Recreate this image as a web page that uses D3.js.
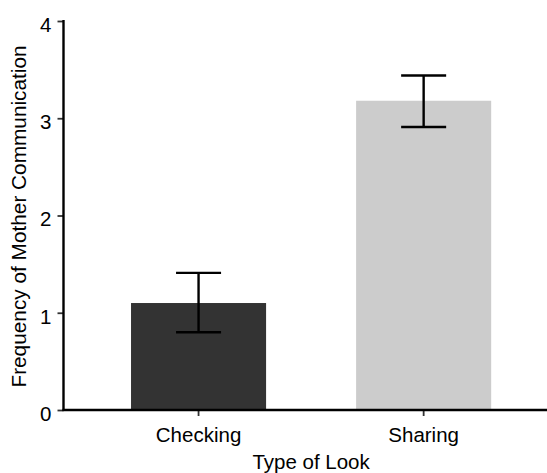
<!DOCTYPE html>
<html>
<head>
<meta charset="utf-8">
<script src="https://cdn.jsdelivr.net/npm/d3@7"></script>
<style>
  body { margin: 0; background: #fff; }
  text { font-family: "Liberation Sans", Arial, sans-serif; }
</style>
</head>
<body>
<div id="plot"></div>
<script>
// chart values
const categories = ["Checking", "Sharing"];
const means = [1.10, 3.18];
const errLow = [0.80, 2.91];
const errHigh = [1.41, 3.44];
const barColors = ["#333333", "#cccccc"];
const yTicks = [0, 1, 2, 3, 4];

const width = 547, height = 473;
const dimension = {
    left: 63.5,
    right: 558.7,   // panel runs past the picture edge
    top: 21,
    bottom: 410
};

const svg = d3.select("#plot").append("svg")
    .attr("width", width)
    .attr("height", height);

// scales
const xScaler = d3.scaleBand()
    .domain(categories)
    .range([dimension.left, dimension.right])
    .paddingInner(0.4)
    .paddingOuter(0.3);

const yScaler = d3.scaleLinear()
    .domain([0, 4])
    .range([dimension.bottom, dimension.top]);

// bars
svg.append("g").selectAll("rect")
    .data(categories)
    .join("rect")
    .attr("x", d => xScaler(d))
    .attr("width", xScaler.bandwidth())
    .attr("y", (d, i) => yScaler(means[i]))
    .attr("height", (d, i) => yScaler(0) - yScaler(means[i]))
    .attr("fill", (d, i) => barColors[i]);

// error bars
const capHalf = xScaler.step() * 0.1;
const errG = svg.append("g")
    .attr("stroke", "#000")
    .attr("stroke-width", 2.4)
    .attr("fill", "none");

categories.forEach((c, i) => {
    const cx = xScaler(c) + xScaler.bandwidth() / 2;
    errG.append("line")
        .attr("x1", cx).attr("x2", cx)
        .attr("y1", yScaler(errLow[i])).attr("y2", yScaler(errHigh[i]));
    errG.append("line")
        .attr("x1", cx - capHalf).attr("x2", cx + capHalf)
        .attr("y1", yScaler(errHigh[i])).attr("y2", yScaler(errHigh[i]));
    errG.append("line")
        .attr("x1", cx - capHalf).attr("x2", cx + capHalf)
        .attr("y1", yScaler(errLow[i])).attr("y2", yScaler(errLow[i]));
});

// axes
const yAxisGenerator = d3.axisLeft(yScaler)
    .tickValues(yTicks)
    .tickFormat(d3.format("d"))
    .tickSize(6)
    .tickPadding(6);

const xAxisGenerator = d3.axisBottom(xScaler)
    .tickSize(6)
    .tickPadding(5);

const yAxis = svg.append("g")
    .attr("transform", `translate(${dimension.left},0)`)
    .call(yAxisGenerator);

const xAxis = svg.append("g")
    .attr("transform", `translate(0,${dimension.bottom})`)
    .call(xAxisGenerator);

[yAxis, xAxis].forEach(ax => {
    ax.select(".domain").remove();
    ax.selectAll(".tick line").attr("stroke", "#333").attr("stroke-width", 1.8);
    ax.selectAll(".tick text")
        .attr("fill", "#000")
        .style("font-size", "20.5px");
});
yAxis.selectAll(".tick text").attr("dy", "0.5em");
xAxis.selectAll(".tick text").attr("dy", "1.0em");

// axis lines
svg.append("line")
    .attr("x1", dimension.left).attr("x2", dimension.left)
    .attr("y1", dimension.top - 1).attr("y2", dimension.bottom + 1)
    .attr("stroke", "#000").attr("stroke-width", 2.4);
svg.append("line")
    .attr("x1", dimension.left - 1).attr("x2", width)
    .attr("y1", dimension.bottom).attr("y2", dimension.bottom)
    .attr("stroke", "#000").attr("stroke-width", 2.4);

// titles
svg.append("text")
    .attr("x", (dimension.left + dimension.right) / 2)
    .attr("y", 469)
    .attr("text-anchor", "middle")
    .style("font-size", "20.5px")
    .text("Type of Look");

svg.append("text")
    .attr("transform", `translate(26,${(dimension.top + dimension.bottom) / 2 + 1}) rotate(-90)`)
    .attr("text-anchor", "middle")
    .style("font-size", "20.8px")
    .text("Frequency of Mother Communication");
</script>
</body>
</html>
